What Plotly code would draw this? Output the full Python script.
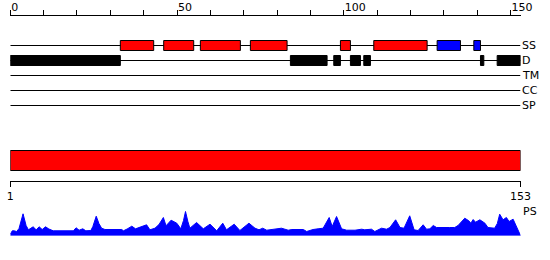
import plotly.graph_objects as go

# ---- data ----
seq_len = 153
top_ticks = [0, 50, 100, 150]
bottom_ticks = [1, 153]
track_names = ["SS", "D", "TM", "CC", "SP"]

helix_start = [33, 46, 57, 72, 99, 109]
helix_end = [43, 55, 69, 83, 102, 125]
strand_start = [128, 139]
strand_end = [135, 141]
disorder_start = [0, 84, 97, 102, 106, 141, 146]
disorder_end = [33, 95, 99, 105, 108, 142, 153]

domain_start = [1]
domain_end = [153]

ps_pos = [1, 1.6, 2.1, 2.9, 3.6, 4.8, 5.7, 6.4, 7.8, 8.7, 9.6, 10.5, 11.5, 12.5, 13.8,
          19.8, 20.6, 21.5, 22.6, 23.5, 25.0, 25.6, 26.6, 27.4, 28.2, 29.2, 34.2, 34.7,
          35.8, 37.2, 38.3, 40.1, 41.6, 42.6, 44.1, 45.3, 46.6, 47.4, 48.9, 50.6, 51.8,
          52.6, 53.2, 53.9, 54.5, 56.5, 58.5, 60.5, 62.5, 64.3, 65.4, 67.7, 69.4, 72.1,
          73.9, 75.1, 76.2, 77.4, 79.8, 81.8, 82.8, 83.8, 84.9, 88.3, 89.3, 91.2, 92.7,
          94.2, 96.0, 96.9, 98.2, 99.7, 101.2, 103.7, 105.7, 106.6, 108.6, 109.6, 111.6,
          113.1, 114.1, 115.8, 117.1, 118.3, 120.0, 121.3, 122.5, 124.0, 125.0, 126.0,
          127.0, 128.0, 131.9, 133.4, 134.4, 136.4, 137.6, 138.2, 138.9, 139.6, 140.9,
          142.4, 143.3, 145.3, 146.1, 146.8, 147.8, 148.8, 149.6, 150.8, 153]
ps_val = [1.3, 4.7, 4.7, 4.0, 7.0, 21.7, 10.0, 5.7, 8.7, 5.7, 8.7, 6.0, 8.7, 6.5, 4.7,
          4.7, 7.7, 5.3, 6.7, 4.7, 5.0, 9.0, 19.3, 12.0, 7.3, 6.0, 6.0, 4.7,
          6.5, 9.3, 6.7, 8.7, 10.7, 5.7, 7.3, 11.0, 18.0, 9.7, 15.3, 12.3, 6.7,
          15.0, 24.0, 14.0, 7.3, 13.0, 6.7, 11.3, 4.7, 12.3, 5.7, 11.3, 5.0, 12.3,
          7.3, 5.7, 7.3, 5.3, 6.7, 7.3, 6.3, 5.3, 6.0, 6.0, 4.0, 6.0, 6.7,
          7.3, 18.0, 9.0, 19.0, 6.7, 5.3, 5.3, 6.3, 5.7, 6.3, 4.0, 7.3,
          6.3, 8.0, 15.7, 8.0, 7.3, 19.7, 5.7, 5.0, 10.7, 6.3, 6.7,
          10.0, 8.0, 8.0, 8.0, 10.0, 17.3, 14.7, 12.3, 16.0, 13.3, 15.7,
          12.3, 8.0, 7.3, 12.0, 21.3, 15.7, 18.0, 14.0, 16.3, 0]

# ---- layout constants (pixels) ----
W, H = 550, 260
X0, X1 = 10.3, 520.5
track_y = [45.5, 60.5, 75.5, 90.5, 105.5]
FONT = "DejaVu Sans"

fig = go.Figure()

fig.add_trace(go.Scatter(
    x=ps_pos, y=ps_val, xaxis="x3", yaxis="y2", mode="lines",
    line=dict(color="#0000ff", width=1), fill="tozeroy", fillcolor="#0000ff",
    hoverinfo="skip", showlegend=False))

shapes = []
# track lines
for ty in track_y:
    shapes.append(dict(type="line", xref="x", yref="y", x0=0, x1=seq_len, y0=ty, y1=ty,
                       line=dict(color="black", width=1)))
# helices
for s, e in zip(helix_start, helix_end):
    shapes.append(dict(type="rect", xref="x", yref="y", x0=s, x1=e, y0=40.5, y1=50.5,
                       fillcolor="#ff0000", line=dict(color="black", width=1)))
for s, e in zip(strand_start, strand_end):
    shapes.append(dict(type="rect", xref="x", yref="y", x0=s, x1=e, y0=40.5, y1=50.5,
                       fillcolor="#0000ff", line=dict(color="black", width=1)))
for s, e in zip(disorder_start, disorder_end):
    shapes.append(dict(type="rect", xref="x", yref="y", x0=s, x1=e, y0=55.5, y1=65.5,
                       fillcolor="black", line=dict(color="black", width=1)))
for s, e in zip(domain_start, domain_end):
    shapes.append(dict(type="rect", xref="x3", yref="y", x0=s, x1=e, y0=150.5, y1=170.5,
                       fillcolor="#ff0000", line=dict(color="black", width=1)))
# PS baseline extension
shapes.append(dict(type="line", xref="x3", yref="y2", x0=ps_pos[0], x1=158, y0=0, y1=0,
                   line=dict(color="#0000ff", width=1)))

annotations = []
for name, ty in zip(track_names, track_y):
    annotations.append(dict(text=name, xref="x", yref="y", x=seq_len, y=ty,
                            xanchor="left", yanchor="middle", showarrow=False,
                            font=dict(family=FONT, size=11, color="black"), xshift=-1))
annotations.append(dict(text="PS", xref="x3", yref="y", x=seq_len, y=211,
                        xanchor="left", yanchor="middle", showarrow=False,
                        font=dict(family=FONT, size=11, color="black"), xshift=0))

dom = [X0 / W, X1 / W]
fig.update_layout(
    width=W, height=H, margin=dict(l=0, r=0, t=0, b=0, pad=0),
    paper_bgcolor="white", plot_bgcolor="white", template="none",
    font=dict(family=FONT, size=11, color="black"),
    xaxis=dict(domain=dom, range=[0, seq_len], anchor="free", position=1 - 15 / H,
               side="top", tickvals=top_ticks, ticktext=[str(t) for t in top_ticks],
               ticks="outside", ticklen=5, tickwidth=1, tickcolor="black",
               minor=dict(dtick=10, tick0=0, ticks="outside", ticklen=5, tickcolor="black", tickwidth=1),
               showline=True, linecolor="black", linewidth=1, showgrid=False,
               zeroline=False, ticklabelposition="outside right", automargin=False,
               tickfont=dict(family=FONT, size=11, color="black")),
    yaxis=dict(domain=[0, 1], range=[H, 0], visible=False, anchor="x", showgrid=False),
    xaxis3=dict(domain=dom, range=[1, seq_len], anchor="free", position=1 - 180.5 / H,
                side="bottom", tickvals=bottom_ticks, ticktext=[str(t) for t in bottom_ticks],
                ticks="outside", ticklen=5, tickwidth=1, tickcolor="black",
                showline=True, linecolor="black", linewidth=1, showgrid=False,
                zeroline=False, automargin=False,
                tickfont=dict(family=FONT, size=11, color="black")),
    yaxis2=dict(domain=[24.5 / H, 49.5 / H], range=[0, 25], visible=False,
                anchor="x3", showgrid=False),
    shapes=shapes, annotations=annotations, showlegend=False,
)

fig.write_html("out.html")
